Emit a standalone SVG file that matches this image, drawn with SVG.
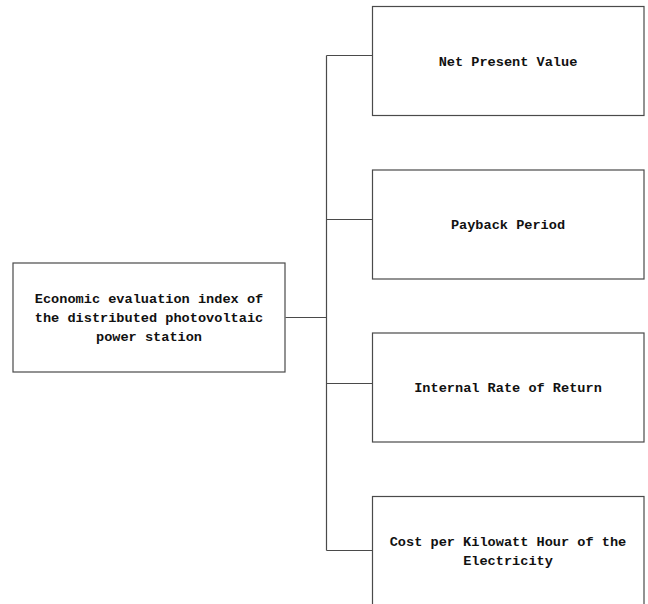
<svg xmlns="http://www.w3.org/2000/svg" width="648" height="604" viewBox="0 0 648 604">
  <style>
    .box { fill: #ffffff; stroke: #4a4a4a; stroke-width: 1.2; }
    .conn { fill: none; stroke: #4a4a4a; stroke-width: 1.2; }
    .label { font-family: "Liberation Mono", "DejaVu Sans Mono", monospace; font-weight: bold; font-size: 13.6px; fill: #111111; text-anchor: middle; }
  </style>
  <rect width="648" height="604" fill="#ffffff"/>

  <g id="connectors">
    <path class="conn" d="M285.5,317.5 H326.5"/>
    <path class="conn" d="M326.5,55.5 V550.5"/>
    <path class="conn" d="M326.5,55.5 H372.5"/>
    <path class="conn" d="M326.5,219.5 H372.5"/>
    <path class="conn" d="M326.5,383.5 H372.5"/>
    <path class="conn" d="M326.5,550.5 H372.5"/>
  </g>

  <g id="root">
    <rect class="box" x="13" y="263" width="272" height="109"/>
    <text class="label" x="149" y="303">Economic evaluation index of</text>
    <text class="label" x="149" y="322">the distributed photovoltaic</text>
    <text class="label" x="149" y="341">power station</text>
  </g>

  <g id="npv">
    <rect class="box" x="372.5" y="6.5" width="271.5" height="109"/>
    <text class="label" x="508" y="66">Net Present Value</text>
  </g>

  <g id="payback">
    <rect class="box" x="372.5" y="170" width="271.5" height="109"/>
    <text class="label" x="508" y="229">Payback Period</text>
  </g>

  <g id="irr">
    <rect class="box" x="372.5" y="333" width="271.5" height="109"/>
    <text class="label" x="508" y="392">Internal Rate of Return</text>
  </g>

  <g id="lcoe">
    <rect class="box" x="372.5" y="496.5" width="271.5" height="112"/>
    <text class="label" x="508" y="546">Cost per Kilowatt Hour of the</text>
    <text class="label" x="508" y="565">Electricity</text>
  </g>
</svg>
